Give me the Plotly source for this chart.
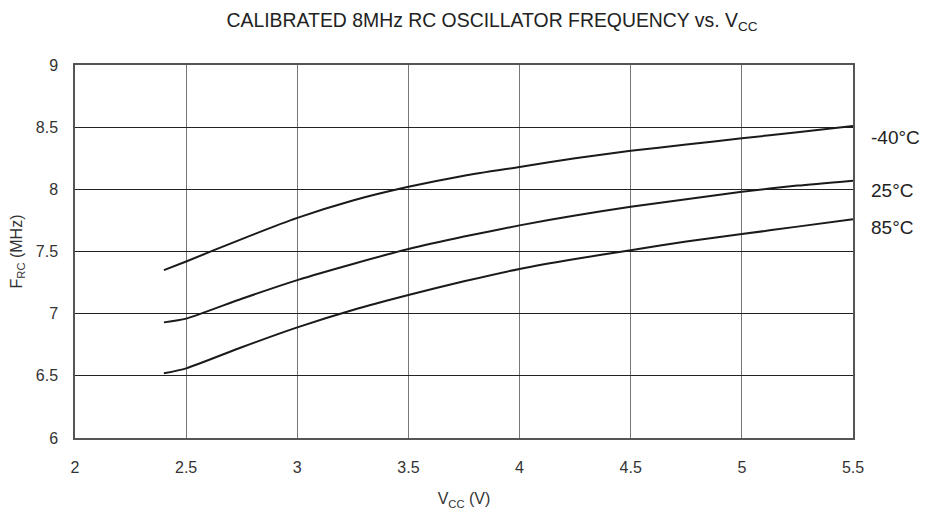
import plotly.graph_objects as go

# === data ===
vcc = [2.4, 2.5, 2.75, 3.0, 3.25, 3.5, 3.75, 4.0, 4.25, 4.5, 4.75, 5.0, 5.25, 5.5]
f_m40 = [7.35, 7.42, 7.60, 7.77, 7.91, 8.02, 8.11, 8.18, 8.25, 8.31, 8.36, 8.41, 8.46, 8.51]
f_25 = [6.93, 6.96, 7.12, 7.27, 7.40, 7.52, 7.62, 7.71, 7.79, 7.86, 7.92, 7.98, 8.03, 8.07]
f_85 = [6.52, 6.56, 6.73, 6.89, 7.03, 7.15, 7.26, 7.36, 7.44, 7.51, 7.58, 7.64, 7.70, 7.76]
labels = ["-40°C", "25°C", "85°C"]
label_y = [8.42, 7.99, 7.69]

x_ticks = [2, 2.5, 3, 3.5, 4, 4.5, 5, 5.5]
y_ticks = [6, 6.5, 7, 7.5, 8, 8.5, 9]

FONT = "Liberation Sans, Arial, sans-serif"

fig = go.Figure()
for ys, name in zip([f_m40, f_25, f_85], labels):
    fig.add_trace(go.Scatter(
        x=vcc, y=ys, name=name, mode="lines",
        line=dict(color="#1a1a1a", width=2, shape="spline", smoothing=0.6),
        showlegend=False,
    ))

for name, yv in zip(labels, label_y):
    fig.add_annotation(
        x=1.021, xref="paper", y=yv, yref="y", text=name, showarrow=False,
        xanchor="left", font=dict(family=FONT, size=19, color="#222"),
    )

# page body has an 8px margin, so the figure is shrunk by that amount
fig.update_layout(
    width=928, height=502,
    margin=dict(l=67, r=83, t=57, b=72),
    paper_bgcolor="white", plot_bgcolor="white",
    font=dict(family=FONT, size=15, color="#333"),
    title=dict(
        text="CALIBRATED 8MHz RC OSCILLATOR FREQUENCY vs. V<sub>CC</sub>",
        x=0.5216, xanchor="center", y=0.976, yanchor="middle",
        font=dict(family=FONT, size=19.4, color="#222"),
    ),
)
fig.update_xaxes(
    range=[2, 5.5], tickvals=x_ticks, ticktext=[f"{t:g}" for t in x_ticks],
    tickfont=dict(size=16),
    showgrid=True, gridcolor="#777", gridwidth=1,
    showline=True, linecolor="#555", linewidth=1.5, mirror=True,
    ticks="", ticklabelstandoff=14, zeroline=False, automargin=False,
    title=dict(text="V<sub>CC</sub> (V)", font=dict(family=FONT, size=16, color="#333"), standoff=18),
)
fig.update_yaxes(
    range=[6, 9], tickvals=y_ticks, ticktext=[f"{t:g}" for t in y_ticks],
    tickfont=dict(size=16),
    showgrid=True, gridcolor="#222", gridwidth=1,
    showline=True, linecolor="#555", linewidth=1.5, mirror=True,
    ticks="", ticklabelstandoff=12, zeroline=False, automargin=False,
    title=dict(text="F<sub>RC</sub> (MHz)", font=dict(family=FONT, size=16, color="#333"), standoff=12),
)

fig.write_html("out.html")
